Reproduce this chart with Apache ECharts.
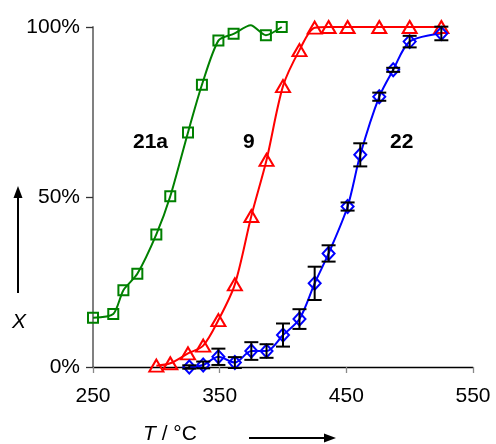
<!DOCTYPE html>
<html>
<head>
<meta charset="utf-8">
<script src="https://cdn.jsdelivr.net/npm/echarts@6/dist/echarts.min.js"></script>
<style>
  html, body { margin: 0; padding: 0; background: #fff; }
  #chart { width: 496px; height: 444px; }
</style>
</head>
<body>
<div id="chart"></div>
<script>
// Conversion X (%) versus temperature T (°C) for catalysts 21a, 9 and 22
const xTicks = [250, 350, 450, 550];
const yTicks = [0, 50, 100];

const temp21a = [250, 266, 274, 285, 300, 311, 325, 336, 349, 361, 374.5, 386.5, 399];
const conv21a = [14.5, 15.6, 22.6, 27.4, 39.0, 50.2, 69.0, 83.0, 96.0, 98.0, 100.5, 97.6, 100];
// the 374.5 °C reading of 21a is plotted without a marker
const hiddenMarker21a = [374.5];

const temp9 = [300, 311, 325, 337, 349, 362, 375, 387, 400, 413, 425, 436, 451, 476, 500, 525];
const conv9 = [0.4, 1.1, 4.0, 6.3, 13.8, 24.3, 44.4, 60.9, 82.6, 93.2, 99.8, 100, 100, 100, 100, 100];

const temp22 = [326, 337, 349, 362, 375, 387, 400, 413, 425, 436, 451, 461, 476, 487, 500, 525];
const conv22 = [0, 0.6, 3.0, 1.3, 4.7, 4.7, 9.4, 14.1, 24.6, 33.4, 47.2, 62.4, 79.5, 87.4, 95.7, 98.1];
const err22 = [0.5, 1.0, 2.4, 1.6, 2.6, 2.0, 3.4, 2.9, 4.9, 2.4, 1.2, 3.4, 1.2, 0.6, 1.7, 2.0];

const seriesNames = ['21a', '9', '22'];

const GREEN = '#008000', RED = '#ff0000', BLUE = '#0000ff';
const FONT = '"Liberation Sans", Arial, sans-serif';

function pairs(xs, ys, hidden) {
  return xs.map((x, i) => {
    const item = { value: [x, ys[i]] };
    if (hidden && hidden.indexOf(x) >= 0) item.symbol = 'none';
    return item;
  });
}

const errData = temp22.map((t, i) => [t, conv22[i] - err22[i], conv22[i] + err22[i]]);

const chart = echarts.init(document.getElementById('chart'), null, { renderer: 'canvas' });

chart.setOption({
  animation: false,
  backgroundColor: '#fff',
  grid: { left: 93, right: 23, top: 27, bottom: 77, containLabel: false },
  xAxis: {
    type: 'value',
    min: xTicks[0],
    max: xTicks[xTicks.length - 1],
    interval: xTicks[1] - xTicks[0],
    axisLine: { show: true, onZero: false, lineStyle: { color: '#000', width: 1.3 } },
    axisTick: { show: true, length: 6, lineStyle: { color: '#888', width: 1.3 } },
    axisLabel: { color: '#000', fontFamily: FONT, fontSize: 21, margin: 19 },
    splitLine: { show: false }
  },
  yAxis: {
    type: 'value',
    min: yTicks[0],
    max: yTicks[yTicks.length - 1],
    interval: yTicks[1] - yTicks[0],
    axisLine: { show: true, lineStyle: { color: '#808080', width: 2 } },
    axisTick: { show: true, length: 7, lineStyle: { color: '#333', width: 1.3 } },
    axisLabel: { color: '#000', fontFamily: FONT, fontSize: 21, margin: 13, formatter: '{value}%' },
    splitLine: { show: false }
  },
  series: [
    {
      name: seriesNames[0],
      type: 'line',
      data: pairs(temp21a, conv21a, hiddenMarker21a),
      smooth: 0.25,
      symbol: 'rect',
      symbolSize: 10,
      clip: false,
      lineStyle: { color: GREEN, width: 2 },
      itemStyle: { color: 'rgba(0,0,0,0)', borderColor: GREEN, borderWidth: 2 },
      z: 3
    },
    {
      name: seriesNames[1],
      type: 'line',
      data: pairs(temp9, conv9),
      smooth: 0.3,
      symbol: 'triangle',
      symbolSize: [14, 12],
      clip: false,
      lineStyle: { color: RED, width: 2 },
      itemStyle: { color: 'rgba(0,0,0,0)', borderColor: RED, borderWidth: 2 },
      z: 3
    },
    {
      name: seriesNames[2],
      type: 'line',
      data: pairs(temp22, conv22),
      smooth: 0.3,
      symbol: 'diamond',
      symbolSize: [12, 13],
      clip: false,
      lineStyle: { color: BLUE, width: 2 },
      itemStyle: { color: 'rgba(0,0,0,0)', borderColor: BLUE, borderWidth: 2 },
      z: 3
    },
    {
      name: seriesNames[2] + ' error',
      type: 'custom',
      data: errData,
      clip: false,
      z: 5,
      renderItem: function (params, api) {
        const lo = api.coord([api.value(0), api.value(1)]);
        const hi = api.coord([api.value(0), api.value(2)]);
        const half = 7;
        const style = { stroke: '#000', lineWidth: 2 };
        return {
          type: 'group',
          children: [
            { type: 'line', shape: { x1: lo[0], y1: lo[1], x2: hi[0], y2: hi[1] }, style: style },
            { type: 'line', shape: { x1: lo[0] - half, y1: lo[1], x2: lo[0] + half, y2: lo[1] }, style: style },
            { type: 'line', shape: { x1: hi[0] - half, y1: hi[1], x2: hi[0] + half, y2: hi[1] }, style: style }
          ]
        };
      }
    }
  ],
  graphic: [
    // series names
    { type: 'text', left: 133, top: 132, style: { text: seriesNames[0], font: 'bold 21px ' + FONT, fill: '#000' } },
    { type: 'text', left: 243, top: 132, style: { text: seriesNames[1], font: 'bold 21px ' + FONT, fill: '#000' } },
    { type: 'text', left: 390, top: 132, style: { text: seriesNames[2], font: 'bold 21px ' + FONT, fill: '#000' } },
    // y-axis name with upward arrow
    { type: 'line', shape: { x1: 18, y1: 293, x2: 18, y2: 196 }, style: { stroke: '#000', lineWidth: 2 } },
    { type: 'polygon', shape: { points: [[18, 186], [13.5, 198], [22.5, 198]] }, style: { fill: '#000' } },
    { type: 'text', left: 12, top: 312, style: { text: 'X', font: 'italic 21px ' + FONT, fill: '#000' } },
    // x-axis name with rightward arrow
    { type: 'text', left: 143, top: 424, style: {
        rich: {
          t: { font: 'italic 21px ' + FONT, fill: '#000' },
          u: { font: '21px ' + FONT, fill: '#000' }
        },
        text: '{t|T}{u| / °C}'
      } },
    { type: 'line', shape: { x1: 249, y1: 438, x2: 325, y2: 438 }, style: { stroke: '#000', lineWidth: 2 } },
    { type: 'polygon', shape: { points: [[336, 438], [324, 433.5], [324, 442.5]] }, style: { fill: '#000' } }
  ]
});
</script>
</body>
</html>
